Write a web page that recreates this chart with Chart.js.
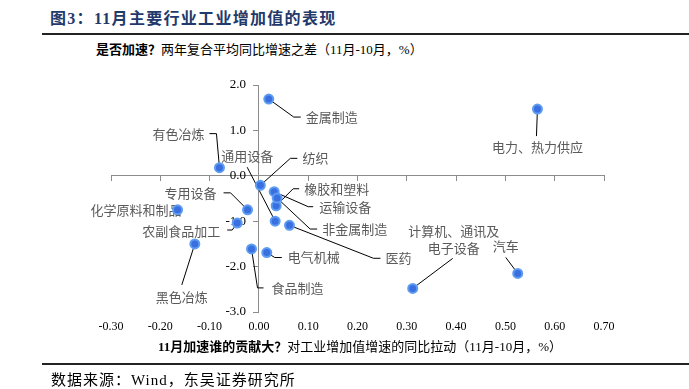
<!DOCTYPE html>
<html>
<head>
<meta charset="utf-8">
<script src="https://cdn.jsdelivr.net/npm/chart.js@4.4.1/dist/chart.umd.min.js"></script>
<style>
  html, body { margin: 0; padding: 0; background: #fff; }
  #wrap { position: relative; width: 689px; height: 389px; overflow: hidden;
          font-family: "Liberation Serif", "Noto Sans CJK SC", serif; color: #000; }
  #chart { position: absolute; left: 0; top: 0; }
  .txt { position: absolute; white-space: nowrap; line-height: 1; }
  .rule { position: absolute; left: 42px; right: 0; height: 2px; background: #222; }
  #title { left: 50px; top: 11px; font-size: 16px; letter-spacing: 1.3px; font-weight: bold; color: #1f3a6b; }
  #sub { left: 96px; top: 43px; font-size: 13px; }
  #xtitle { left: 158px; top: 340px; font-size: 13px; }
  #source { left: 51px; top: 373px; font-size: 15px; letter-spacing: 1px; }
  b { font-weight: bold; }
</style>
</head>
<body>
<div id="wrap">
  <div class="txt" id="title">图3：11月主要行业工业增加值的表现</div>
  <div class="rule" style="top:33px"></div>
  <div class="txt" id="sub"><b>是否加速？</b>两年复合平均同比增速之差（11月-10月，%）</div>
  <canvas id="chart" width="689" height="389"></canvas>
  <div class="txt" id="xtitle"><b>11月加速谁的贡献大？</b>对工业增加值增速的同比拉动（11月-10月，%）</div>
  <div class="rule" style="top:363px"></div>
  <div class="txt" id="source">数据来源：Wind，东吴证券研究所</div>
</div>
<script>
// 行业
const industries = ['金属制造', '有色冶炼', '纺织', '通用设备', '橡胶和塑料', '运输设备',
  '非金属制造', '医药', '电气机械', '食品制造', '专用设备', '化学原料和制品',
  '农副食品加工', '黑色冶炼', '电力、热力供应', '计算机、通讯及\n电子设备', '汽车'];
// 横轴：对工业增加值增速的同比拉动（11月-10月，%）
const pullValues = [0.020, -0.080, 0.003, 0.033, 0.035, 0.031,
  0.037, 0.062, 0.016, -0.015, -0.023, -0.165,
  -0.044, -0.130, 0.565, 0.312, 0.525];
// 纵轴：两年复合平均同比增速之差（11月-10月，%）
const accelValues = [1.69, 0.18, -0.21, -1.00, -0.66, -0.35,
  -0.49, -1.09, -1.69, -1.61, -0.75, -0.75,
  -1.04, -1.50, 1.47, -2.48, -2.15];
const xRange = [-0.3, 0.7];
const yRange = [-3, 2];
// 纵轴刻度文字放在零线左侧一点
const yLabelAt = -0.026;

// 标签位置（相对数据点的像素偏移）与引线
const labelLayout = [
  { at: [37, 18], align: 'left',   leader: [[0, 0], [25, 18], [32, 18]] },
  { at: [-15, -34], align: 'right', leader: [[0, 0], [-3, -34], [-10, -34]] },
  { at: [42, -27], align: 'left',   leader: [[0, 0], [30, -27], [37, -27]] },
  { at: [-28, -65], align: 'center', leader: [[0, 0], [-28, -54]] },
  { at: [28, -17], align: 'left',   leader: [[0, 0], [17, -17], [23, -17]] },
  { at: [45, 15], align: 'left',    leader: [[0, 0], [34, 15], [39, 15]] },
  { at: [45, 31], align: 'left',    leader: [[0, 0], [33, 31], [40, 31]] },
  { at: [96, 33], align: 'left',    leader: [[0, 0], [84, 33], [91, 33]] },
  { at: [21, 5], align: 'left',     leader: [[0, 0], [8, 5], [15, 5]] },
  { at: [20, 39], align: 'left',    leader: [[0, 0], [6, 39], [12, 39]] },
  { at: [-31, -17], align: 'right', leader: [[0, 0], [-17, -17], [-24, -17]] },
  { at: [-87, 0], align: 'left',    leader: null },
  { at: [-17, 8], align: 'right',   leader: [[0, 0], [-5, 7], [-10, 7]] },
  { at: [-13, 53], align: 'center', leader: [[0, 0], [-13, 41]] },
  { at: [0, 38], align: 'center',   leader: [[0, 0], [-1, 27]] },
  { at: [41, -57], align: 'center', leader: [[0, 0], [40, -30]] },
  { at: [-12, -27], align: 'center', leader: [[0, 0], [-12, -16]] }
];

const points = pullValues.map((v, i) => ({ x: v, y: accelValues[i] }));

const labelPlugin = {
  id: 'pointLabels',
  beforeDatasetsDraw(chart) {
    const ctx = chart.ctx;
    const meta = chart.getDatasetMeta(0);
    ctx.save();
    meta.data.forEach((pt, i) => {
      const lay = labelLayout[i];
      if (lay.leader) {
        ctx.beginPath();
        lay.leader.forEach(([dx, dy], k) => {
          if (k === 0) ctx.moveTo(pt.x + dx, pt.y + dy);
          else ctx.lineTo(pt.x + dx, pt.y + dy);
        });
        ctx.strokeStyle = '#000';
        ctx.lineWidth = 1;
        ctx.stroke();
      }
      ctx.font = '13px "Noto Sans CJK SC", sans-serif';
      ctx.fillStyle = '#5a5a5a';
      ctx.textAlign = lay.align;
      ctx.textBaseline = 'middle';
      const lines = industries[i].split('\n');
      lines.forEach((ln, k) => {
        ctx.fillText(ln, pt.x + lay.at[0], pt.y + lay.at[1] + k * 17);
      });
    });
    ctx.restore();
  }
};

const axisGray = '#8c8c8c';

new Chart(document.getElementById('chart'), {
  type: 'scatter',
  data: {
    datasets: [{
      data: points,
      backgroundColor: '#3a6fe0',
      borderColor: '#5d9cf2',
      borderWidth: 2,
      pointRadius: 4.5,
      clip: false
    }]
  },
  options: {
    responsive: false,
    animation: false,
    layout: { padding: { left: 111, right: 85, top: 85, bottom: 77 } },
    plugins: { legend: { display: false }, tooltip: { enabled: false } },
    scales: {
      x: {
        type: 'linear', min: xRange[0], max: xRange[1],
        position: { y: yRange[0] },
        grid: { display: false, drawTicks: false },
        border: { display: false },
        ticks: { stepSize: 0.1, padding: 8, color: '#000',
                 font: { family: '"Liberation Serif", serif', size: 12 },
                 callback: v => v.toFixed(2) }
      },
      xLine: {
        type: 'linear', axis: 'x', min: xRange[0], max: xRange[1],
        position: { y: 0 },
        grid: { drawOnChartArea: false, tickLength: 5, color: axisGray },
        border: { display: true, color: axisGray },
        ticks: { stepSize: 0.1, display: false }
      },
      y: {
        type: 'linear', min: yRange[0], max: yRange[1],
        position: { x: 0 },
        grid: { drawOnChartArea: false, tickLength: 5, color: axisGray },
        border: { display: true, color: axisGray },
        ticks: { stepSize: 1, display: false }
      },
      yText: {
        type: 'linear', axis: 'y', min: yRange[0], max: yRange[1],
        position: { x: yLabelAt },
        grid: { display: false, drawTicks: false },
        border: { display: false },
        ticks: { stepSize: 1, color: '#000',
                 font: { family: '"Liberation Serif", serif', size: 13 },
                 callback: v => v.toFixed(1) }
      }
    }
  },
  plugins: [labelPlugin]
});
</script>
</body>
</html>
